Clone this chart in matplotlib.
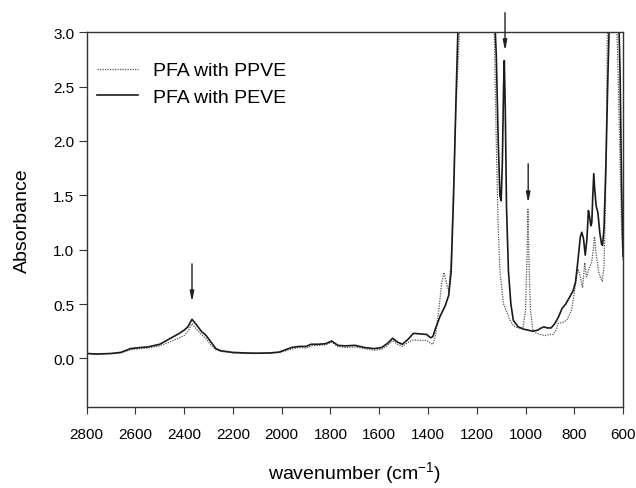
import matplotlib
matplotlib.use("Agg")
import matplotlib.pyplot as plt

plt.rcParams['font.family'] = ['Liberation Sans', 'DejaVu Sans']
plt.rcParams['mathtext.fontset'] = 'custom'
plt.rcParams['mathtext.rm'] = 'Liberation Sans'
plt.rcParams['mathtext.it'] = 'Liberation Sans'

# PFA with PEVE (linha cheia)
w_peve = [2800, 2760, 2700, 2660, 2620, 2580, 2550, 2500, 2460, 2420, 2400, 2385,
          2368, 2350, 2330, 2310, 2290, 2270, 2250, 2200, 2150, 2100, 2050, 2010,
          1990, 1960, 1930, 1900, 1880, 1850, 1820, 1795, 1770, 1740, 1700, 1660,
          1620, 1590, 1565, 1545, 1525, 1505, 1480, 1460, 1430, 1405, 1390, 1380,
          1370, 1350, 1330, 1315, 1305, 1295, 1285, 1275, 1265, 1250, 1200, 1150,
          1130, 1120, 1112, 1105, 1100, 1095, 1090, 1087, 1083, 1078, 1070, 1060,
          1050, 1030, 1010, 990, 970, 950, 935, 925, 910, 895, 880, 865, 850, 835,
          820, 805, 795, 785, 775, 769, 762, 755, 748, 742, 737, 732, 728, 724,
          720, 716, 710, 703, 695, 688, 684, 678, 670, 662, 655, 645, 630, 618,
          612, 606, 600]
a_peve = [0.045, 0.04, 0.045, 0.055, 0.09, 0.10, 0.105, 0.13, 0.18, 0.23, 0.26, 0.29,
          0.36, 0.31, 0.25, 0.21, 0.15, 0.09, 0.07, 0.055, 0.05, 0.048, 0.05, 0.058,
          0.075, 0.10, 0.11, 0.11, 0.13, 0.13, 0.135, 0.16, 0.12, 0.115, 0.12, 0.10,
          0.09, 0.10, 0.14, 0.185, 0.15, 0.13, 0.18, 0.23, 0.225, 0.22, 0.19, 0.20,
          0.27, 0.39, 0.48, 0.58, 0.8, 1.5, 2.4, 3.2, 3.5, 3.5, 3.5, 3.5,
          3.3, 2.8, 2.0, 1.5, 1.45, 1.8, 2.5, 2.74, 2.3, 1.4, 0.8, 0.5,
          0.35, 0.29, 0.27, 0.26, 0.25, 0.26, 0.28, 0.29, 0.28, 0.28, 0.32, 0.38, 0.46, 0.50,
          0.56, 0.62, 0.70, 0.9, 1.12, 1.16, 1.10, 0.95, 1.1, 1.36, 1.3, 1.22, 1.25, 1.5,
          1.70, 1.55, 1.40, 1.34, 1.15, 1.05, 1.04, 1.2, 1.8, 2.6, 3.2, 3.5, 3.5, 3.2,
          2.6, 1.6, 0.94]

# PFA with PPVE (pontilhada)
w_ppve = [2800, 2760, 2700, 2660, 2620, 2580, 2550, 2500, 2460, 2420, 2400, 2385,
          2368, 2350, 2330, 2310, 2290, 2270, 2250, 2200, 2150, 2100, 2050, 2010,
          1990, 1960, 1930, 1900, 1880, 1850, 1820, 1795, 1770, 1740, 1700, 1660,
          1620, 1590, 1565, 1545, 1525, 1505, 1480, 1460, 1430, 1405, 1390, 1380,
          1370, 1355, 1345, 1334, 1325, 1315, 1305, 1295, 1285, 1275, 1268, 1250,
          1200, 1150, 1135, 1128, 1120, 1112, 1105, 1090, 1065, 1050, 1030, 1010,
          1000, 993, 990, 987, 980, 970, 955, 940, 920, 900, 887, 875, 866, 850,
          831, 820, 811, 800, 790, 784, 775, 766, 760, 757, 750, 740, 729, 722,
          717, 710, 700, 692, 685, 678, 672, 668, 664, 655, 640, 628, 620, 612,
          606, 600]
a_ppve = [0.045, 0.04, 0.045, 0.05, 0.08, 0.09, 0.095, 0.115, 0.15, 0.19, 0.21, 0.245,
          0.32, 0.27, 0.22, 0.18, 0.12, 0.08, 0.065, 0.05, 0.045, 0.045, 0.048, 0.055,
          0.065, 0.085, 0.10, 0.095, 0.115, 0.12, 0.125, 0.15, 0.11, 0.10, 0.105, 0.09,
          0.075, 0.085, 0.12, 0.165, 0.13, 0.11, 0.15, 0.17, 0.165, 0.165, 0.14, 0.13,
          0.20, 0.45, 0.68, 0.79, 0.70, 0.62, 0.9, 1.6, 2.3, 2.8, 3.2, 3.5,
          3.5, 3.5, 3.4, 3.0, 2.0, 1.2, 0.8, 0.5, 0.36, 0.30, 0.28, 0.28,
          0.45, 1.0, 1.37, 1.0, 0.45, 0.26, 0.23, 0.22, 0.21, 0.22, 0.22, 0.26, 0.32, 0.33,
          0.35, 0.40, 0.45, 0.6, 0.76, 0.82, 0.75, 0.65, 0.8, 0.88, 0.75, 0.82, 0.88, 1.0,
          1.12, 0.95, 0.8, 0.74, 0.71, 0.85, 1.4, 2.1, 3.0, 3.5, 3.5, 3.3, 2.6, 1.8,
          1.2, 0.9]

# setas: (wavenumber, y inicio, y ponta)
setas = [(2368, 0.87, 0.52), (1084, 3.18, 2.83), (989, 1.79, 1.43)]

fig = plt.figure(figsize=(6.36, 4.89), dpi=100)
ax = fig.add_axes([0.1363, 0.165, 0.8433, 0.767])

ax.plot(w_ppve, a_ppve, color='#555555', lw=0.9, ls=(0, (1, 1)), label='PFA with PPVE')
ax.plot(w_peve, a_peve, color='#1a1a1a', lw=1.2, label='PFA with PEVE')

for x, y0, y1 in setas:
    ax.annotate('', xy=(x, y1), xytext=(x, y0), annotation_clip=False,
                arrowprops=dict(arrowstyle='-|>,head_width=0.12,head_length=0.6',
                                color='#222222', lw=1.0, shrinkA=0, shrinkB=0))

ax.set_xlim(2800, 600)
ax.set_ylim(-0.45, 3.0)
ax.set_xticks(range(2800, 599, -200))
ax.set_yticks([0.0, 0.5, 1.0, 1.5, 2.0, 2.5, 3.0])
ax.set_yticklabels(['0.0', '0.5', '1.0', '1.5', '2.0', '2.5', '3.0'])
ax.tick_params(direction='out', width=0.8, labelsize=11, color='#333333')
ax.tick_params(axis='x', length=5, pad=9)
ax.tick_params(axis='y', length=6, pad=3)
for s in ax.spines.values():
    s.set_linewidth(1.0)
    s.set_color('#333333')

ax.set_ylabel('Absorbance', fontsize=14, labelpad=16)
ax.set_xlabel('wavenumber (cm$^{-1}$)', fontsize=14, labelpad=13)

ax.legend(frameon=False, loc='upper left', bbox_to_anchor=(0.001, 0.947), fontsize=14,
          handlelength=2.1, handletextpad=0.8, labelspacing=0.44, borderpad=0)

plt.savefig('out.png', dpi=100)
plt.close()
